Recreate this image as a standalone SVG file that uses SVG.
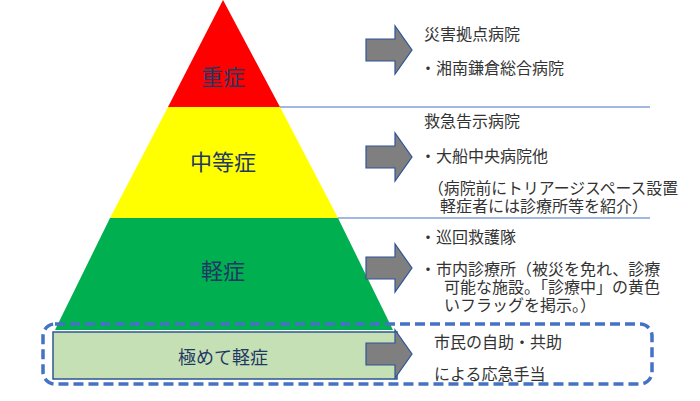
<svg xmlns="http://www.w3.org/2000/svg" width="700" height="401" viewBox="0 0 700 401">
<style>
.t{font-family:"Noto Sans CJK JP","Liberation Sans",sans-serif;font-size:16px;fill:#333}
.lab{font-family:"Noto Sans CJK JP",sans-serif;font-size:22px;fill:#1f3864;text-anchor:middle}
.ar{fill:#7f7f7f;stroke:#2f5597;stroke-width:1.2}
</style>
<defs><path id="arrow" class="ar" d="M0,-11 H29 V-24 L46,0 L29,24 V11 H0 Z"/></defs>
<rect width="700" height="401" fill="#fff"/>
<g id="pyramid">
<polygon points="223,0 280,107 168,107" fill="#ff0000"/>
<polygon points="168,107 280,107 338,218 110,218" fill="#ffff00"/>
<polygon points="110,218 338,218 393,330 55,330" fill="#00b050"/>
</g>
<g id="connectors" stroke="#4472c4" stroke-width="1.2">
<line x1="280" y1="107" x2="650" y2="107"/>
<line x1="338" y1="218" x2="650" y2="218"/>
</g>
<g id="n-bottom">
<rect x="43" y="324" width="609" height="60" rx="12" fill="none" stroke="#4472c4" stroke-width="3.5" stroke-dasharray="10,5"/>
<rect x="53" y="332" width="344" height="47" fill="#c5e0b4" stroke="#2f5597" stroke-width="1.5"/>
<text class="lab" x="223" y="364" style="font-size:18px">極めて軽症</text>
</g>
<g id="n-labels">
<text class="lab" x="223" y="85">重症</text>
<text class="lab" x="223" y="170">中等症</text>
<text class="lab" x="223" y="279">軽症</text>
</g>
<g id="arrows">
<use href="#arrow" x="366" y="50"/>
<use href="#arrow" x="366" y="157"/>
<use href="#arrow" x="366" y="268"/>
<use href="#arrow" x="366" y="354"/>
</g>
<g id="n-text1">
<text class="t" x="424" y="40">災害拠点病院</text>
<text class="t" x="420" y="74">・湘南鎌倉総合病院</text>
</g>
<g id="n-text2">
<text class="t" x="424" y="127">救急告示病院</text>
<text class="t" x="420" y="162">・大船中央病院他</text>
<text class="t" x="428" y="194" textLength="250" lengthAdjust="spacingAndGlyphs">（病院前にトリアージスペース設置</text>
<text class="t" x="440" y="212">軽症者には診療所等を紹介）</text>
</g>
<g id="n-text3">
<text class="t" x="420" y="243">・巡回救護隊</text>
<text class="t" x="420" y="275">・市内診療所（被災を免れ、診療</text>
<text class="t" x="444" y="293">可能な施設。「診療中」の黄色</text>
<text class="t" x="444" y="311">いフラッグを掲示。）</text>
</g>
<g id="n-text4">
<text class="t" x="434" y="348">市民の自助・共助</text>
<text class="t" x="434" y="380">による応急手当</text>
</g>
</svg>
